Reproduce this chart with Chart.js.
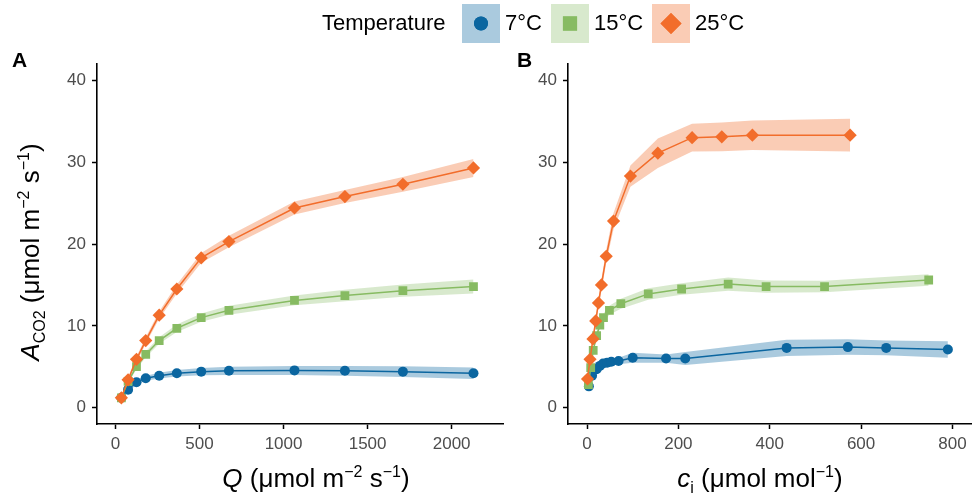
<!DOCTYPE html>
<html>
<head>
<meta charset="utf-8">
<script src="https://cdn.jsdelivr.net/npm/chart.js@4.4.1/dist/chart.umd.min.js"></script>
<style>
  body { margin: 0; background: #fff; font-family: "Liberation Sans", Arial, sans-serif; }
  #wrap { position: relative; width: 978px; height: 498px; overflow: hidden; background: #fff; }
  .pane { position: absolute; top: 0; height: 498px; }
  .txt { position: absolute; color: #000; white-space: nowrap; font-family: "Liberation Sans", Arial, sans-serif; }
  .xt { font-size: 26px; line-height: 26px; text-align: center; }
  .xt sup, .xt sub { font-size: 16px; line-height: 0; position: relative; vertical-align: baseline; }
  .xt sup { top: -0.65em; }
  .xt sub { top: 0.35em; }
  .panel { font-weight: bold; font-size: 21px; line-height: 21px; }
  .key { position: absolute; top: 4px; width: 38px; height: 39px; }
  .lg { font-size: 22px; line-height: 22px; top: 12px; }
</style>
</head>
<body>
<div id="wrap">
  <div class="pane" style="left:0;width:510px;"><canvas id="cA"></canvas></div>
  <div class="pane" style="left:510px;width:468px;"><canvas id="cB"></canvas></div>

  <div class="txt panel" style="left:12px;top:49px;">A</div>
  <div class="txt panel" style="left:517px;top:49px;">B</div>

  <div class="txt xt" style="left:116px;width:400px;top:465px;"><i>Q</i> (μmol m<sup>−2</sup> s<sup>−1</sup>)</div>
  <div class="txt xt" style="left:560px;width:400px;top:465px;"><i>c</i><sub>i</sub> (μmol mol<sup>−1</sup>)</div>
  <div class="txt xt" style="left:-170px;width:400px;top:239px;transform:rotate(-90deg);transform-origin:200px 13px;"><i>A</i><sub>CO2</sub> (μmol m<sup>−2</sup> s<sup>−1</sup>)</div>

  <div class="txt lg" style="left:322px;">Temperature</div>
  <div class="key" style="left:462px;background:rgba(11,102,160,0.35);"><canvas id="k1" width="38" height="39"></canvas></div>
  <div class="txt lg" style="left:505px;">7°C</div>
  <div class="key" style="left:551px;background:rgba(135,187,98,0.32);"><canvas id="k2" width="38" height="39"></canvas></div>
  <div class="txt lg" style="left:594px;">15°C</div>
  <div class="key" style="left:652px;background:rgba(242,109,43,0.35);"><canvas id="k3" width="38" height="39"></canvas></div>
  <div class="txt lg" style="left:695px;">25°C</div>
</div>
<script>
// ---- Data ----
const temperatures = ['7°C', '15°C', '25°C'];

// Panel A: light response, Q (µmol m-2 s-1)
const qA   = [35, 75, 125, 180, 260, 365, 510, 675, 1065, 1365, 1710, 2130];
const a7A  = [1.2, 2.2, 3.1, 3.6, 3.9, 4.2, 4.4, 4.5, 4.55, 4.5, 4.4, 4.2];
const a15A = [1.2, 3.2, 5.0, 6.5, 8.2, 9.7, 11.0, 11.9, 13.1, 13.7, 14.3, 14.8];
const a25A = [1.2, 3.4, 5.9, 8.2, 11.3, 14.5, 18.3, 20.3, 24.4, 25.8, 27.3, 29.3];
const se7A  = [0.2, 0.25, 0.3, 0.3, 0.35, 0.4, 0.45, 0.5, 0.55, 0.6, 0.65, 0.7];
const se15A = [0.2, 0.25, 0.3, 0.35, 0.4, 0.45, 0.5, 0.55, 0.6, 0.7, 0.75, 0.85];
const se25A = [0.2, 0.3, 0.35, 0.4, 0.45, 0.55, 0.6, 0.7, 0.8, 0.8, 0.9, 1.1];

// Panel B: CO2 response, ci (µmol mol-1)
const ci7B  = [4, 11, 21, 28, 35, 44, 53, 69, 100, 173, 215, 437, 571, 655, 790];
const a7B   = [2.6, 3.9, 4.7, 5.1, 5.4, 5.5, 5.6, 5.7, 6.1, 6.0, 6.0, 7.3, 7.4, 7.3, 7.1];
const se7B  = [0.3, 0.3, 0.3, 0.3, 0.3, 0.35, 0.35, 0.4, 0.6, 0.5, 0.8, 1.0, 0.95, 0.9, 1.0];
const ci15B = [3, 8, 13.5, 21, 28, 36, 49, 74, 134, 207, 309, 392, 520, 748];
const a15B  = [2.8, 4.9, 7.0, 8.8, 10.1, 11.0, 11.9, 12.7, 13.9, 14.5, 15.1, 14.8, 14.8, 15.6];
const se15B = [0.3, 0.3, 0.35, 0.4, 0.45, 0.5, 0.55, 0.6, 0.7, 0.7, 0.8, 0.75, 0.7, 0.7];
const ci25B = [1, 6.5, 13, 19, 25, 31.5, 42, 58, 95, 155, 230, 295, 362, 576];
const a25B  = [3.5, 5.9, 8.4, 10.6, 12.8, 15.0, 18.5, 22.8, 28.3, 31.1, 33.0, 33.1, 33.3, 33.3];
const se25B = [0.4, 0.45, 0.5, 0.55, 0.6, 0.7, 0.8, 1.0, 1.3, 1.8, 1.7, 1.75, 1.8, 2.0];

const yTicks  = [0, 10, 20, 30, 40];
const xTicksA = [0, 500, 1000, 1500, 2000];
const xTicksB = [0, 200, 400, 600, 800];

// ---- Styles ----
const COLORS = ['#0b66a0', '#87bb62', '#f26d2b'];
const RIBBONS = ['rgba(11,102,160,0.35)', 'rgba(135,187,98,0.32)', 'rgba(242,109,43,0.35)'];
const STYLES = ['circle', 'rect', 'rectRot'];
const RADII = [5, 6.2, 6.6];

function pts(xs, ys, off, sign) {
  return xs.map((x, i) => ({ x: x, y: ys[i] + (off ? sign * off[i] : 0) }));
}

function buildDatasets(series) {
  const ribbons = [], lines = [];
  series.forEach((s, k) => {
    ribbons.push({
      label: temperatures[k] + ' upper', data: pts(s.x, s.y, s.se, 1),
      borderWidth: 0, pointRadius: 0, fill: '+1', backgroundColor: RIBBONS[k], order: 10
    });
    ribbons.push({
      label: temperatures[k] + ' lower', data: pts(s.x, s.y, s.se, -1),
      borderWidth: 0, pointRadius: 0, fill: false, order: 10
    });
  });
  series.forEach((s, k) => {
    lines.push({
      label: temperatures[k], data: pts(s.x, s.y),
      borderColor: COLORS[k], backgroundColor: COLORS[k], borderWidth: 1.5,
      pointStyle: STYLES[k], pointRadius: RADII[k], pointBorderWidth: 0,
      pointBackgroundColor: COLORS[k], fill: false, order: 3 - k
    });
  });
  return ribbons.concat(lines);
}

function makeChart(id, series, xmin, xmax, xticks, yWidth, padRight) {
  const tickFont = { family: '"Liberation Sans", Arial, sans-serif', size: 17 };
  return new Chart(document.getElementById(id), {
    type: 'line',
    data: { datasets: buildDatasets(series) },
    options: {
      responsive: true, maintainAspectRatio: false, animation: false,
      devicePixelRatio: 1,
      layout: { padding: { top: 64, right: padRight, left: 0, bottom: 0 } },
      plugins: { legend: { display: false }, tooltip: { enabled: false } },
      elements: { line: { tension: 0 } },
      scales: {
        x: {
          type: 'linear', min: xmin, max: xmax,
          afterBuildTicks: s => { s.ticks = xticks.map(v => ({ value: v })); },
          afterFit: s => { s.height = 74; },
          grid: { display: true, drawOnChartArea: false, drawTicks: true, tickLength: 5, tickWidth: 1.5, tickColor: '#000' },
          border: { display: true, color: '#000', width: 1.6 },
          ticks: { color: '#4d4d4d', font: tickFont, padding: 5, maxRotation: 0, callback: v => String(v) }
        },
        y: {
          type: 'linear', min: -2, max: 42,
          afterBuildTicks: s => { s.ticks = yTicks.map(v => ({ value: v })); },
          afterFit: s => { s.width = yWidth; },
          grid: { display: true, drawOnChartArea: false, drawTicks: true, tickLength: 5, tickWidth: 1.5, tickColor: '#000' },
          border: { display: true, color: '#000', width: 1.6 },
          ticks: { color: '#4d4d4d', font: tickFont, padding: 6, callback: v => String(v) }
        }
      }
    }
  });
}

makeChart('cA', [
  { x: qA, y: a7A, se: se7A },
  { x: qA, y: a15A, se: se15A },
  { x: qA, y: a25A, se: se25A }
], -110, 2308, xTicksA, 97, 4);

makeChart('cB', [
  { x: ci7B, y: a7B, se: se7B },
  { x: ci15B, y: a15B, se: se15B },
  { x: ci25B, y: a25B, se: se25B }
], -41.7, 841.5, xTicksB, 58, 0);

// Legend key glyphs
['k1', 'k2', 'k3'].forEach((id, k) => {
  const ctx = document.getElementById(id).getContext('2d');
  ctx.fillStyle = COLORS[k];
  Chart.helpers.drawPoint(ctx, { pointStyle: STYLES[k], radius: [7, 10, 10.5][k], borderWidth: 0 }, 19, 19.5);
  ctx.fill();
});
</script>
</body>
</html>
